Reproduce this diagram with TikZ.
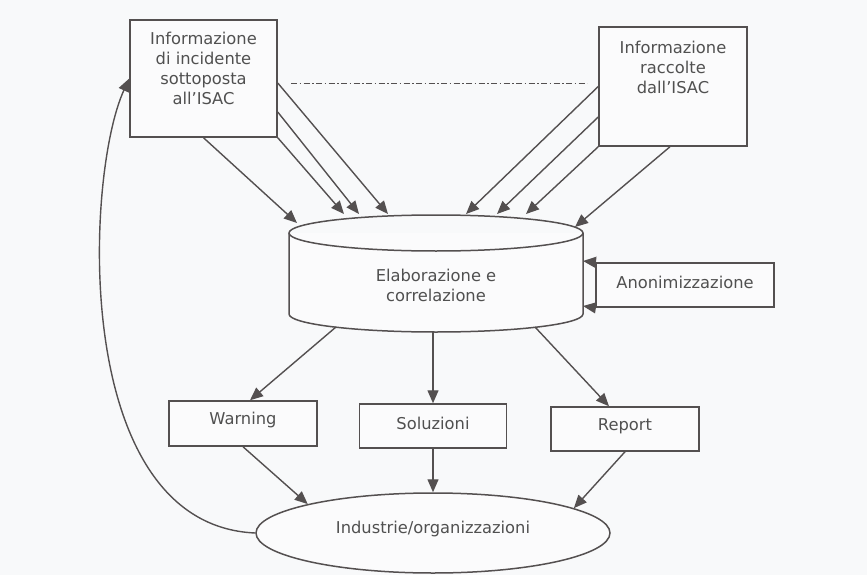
\documentclass[tikz,border=0pt]{standalone}
\usepackage{fontspec}
\setmainfont{DejaVu Sans}
\usetikzlibrary{arrows.meta,shapes.geometric,calc}
\definecolor{ink}{HTML}{545050}
\definecolor{txtc}{HTML}{505050}
\definecolor{paper}{HTML}{F8F9FA}
\tikzset{
  box/.style={draw=ink, line width=1.5pt, rectangle, inner sep=0pt, fill=white!40!paper},
  txt/.style={text=txtc, font=\fontsize{16.3pt}{20pt}\selectfont, align=center, inner sep=0pt},
  link/.style={draw=ink, line width=1.4pt, -{Triangle[length=13pt,width=11pt]}},
  shape line/.style={draw=ink, line width=1.5pt},
}
\begin{document}
\begin{tikzpicture}[x=1pt,y=-1pt]
\useasboundingbox[fill=paper] (0,0) rectangle (867,575);

% source boxes
\node[box, minimum width=147pt, minimum height=117pt] (lbox) at (203.5,78.5) {};
\node[txt] (lboxtxt) at (203.5,68) {Informazione\\di incidente\\sottoposta\\all’ISAC};
\node[box, minimum width=148pt, minimum height=119pt] (rbox) at (673,86.5) {};
\node[txt] (rboxtxt) at (673,67) {Informazione\\raccolte\\dall’ISAC};

% dash-dot link between the two sources
\coordinate (dl) at (291,83);
\coordinate (dr) at (587,83);
\draw[ink, line width=0.9pt, dash pattern=on 6pt off 2.5pt on 1.5pt off 2.5pt] (dl) -- (dr);

% processing cylinder
\draw[shape line, fill=white!40!paper] (289,233) -- (289,314)
  arc[start angle=180, end angle=360, x radius=147pt, y radius=18pt] -- (583,233);
\draw[shape line] (436,233) ellipse [x radius=147pt, y radius=18pt];
\node[txt] (cyl) at (436,285) {Elaborazione e\\correlazione};

% points on the cylinder rim
\coordinate (t1) at (297,223);
\coordinate (t2) at (344,214);
\coordinate (t3) at (359,214);
\coordinate (t4) at (388,214);
\coordinate (t5) at (466,214);
\coordinate (t6) at (497,214);
\coordinate (t7) at (526,214);
\coordinate (t8) at (575,227);
\coordinate (b1) at (336,327);
\coordinate (b2) at (433,332);
\coordinate (b3) at (535,327);
\coordinate (s1) at (583,261);
\coordinate (s2) at (583,306);

% anonymisation
\node[box, minimum width=178pt, minimum height=44pt] (anon) at (685,285) {};
\node[txt] (anontxt) at (685,282) {Anonimizzazione};

% outputs
\node[box, minimum width=148pt, minimum height=45pt] (warn) at (243,423.5) {};
\node[txt] at (243,420) {Warning};
\node[box, minimum width=147pt, minimum height=44pt] (sol) at (433,426) {};
\node[txt] at (433,423) {Soluzioni};
\node[box, minimum width=148pt, minimum height=44pt] (rep) at (625,429) {};
\node[txt] at (625,426) {Report};

% consumers
\node[ellipse, shape line, fill=white!40!paper, minimum width=354pt, minimum height=80pt, inner sep=0pt] (ind) at (433,533) {};
\node[txt] at (433,529) {Industrie/organizzazioni};

% inputs into the cylinder
\draw[link] (lbox.south) -- (t1);
\draw[link] (lbox.south east) -- (t2);
\draw[link] ([yshift=-33.5pt]lbox.east) -- (t3);
\draw[link] ([yshift=-4.5pt]lbox.east) -- (t4);
\draw[link] (rbox.west) -- (t5);
\draw[link] ([yshift=-30.5pt]rbox.west) -- (t6);
\draw[link] (rbox.south west) -- (t7);
\draw[link] ([xshift=-3pt]rbox.south) -- (t8);

% anonymisation loop
\draw[link] (anon.north west) -- (s1);
\draw[link] (anon.south west) -- (s2);

% outputs of the cylinder
\draw[link] (b1) -- ([xshift=7pt]warn.north);
\draw[link] (b2) -- (sol.north);
\draw[link] (b3) -- ([xshift=-16pt]rep.north);

% outputs reach the consumers
\draw[link] (warn.south) -- (ind.167);
\draw[link] (sol.south) -- (ind.north);
\draw[link] (rep.south) -- (ind.10);

% feedback to the incident source
\draw[link] (ind.west) .. controls (70,525) and (85,175) .. (lbox.west);
\end{tikzpicture}
\end{document}
